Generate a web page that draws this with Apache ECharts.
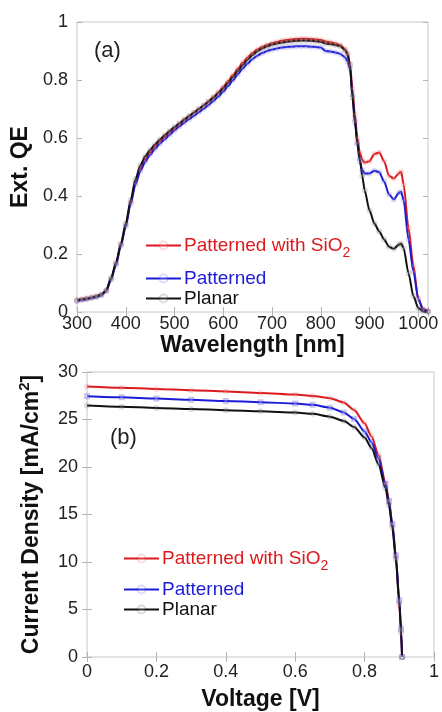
<!DOCTYPE html>
<html>
<head>
<meta charset="utf-8">
<title>EQE and J-V</title>
<script src="https://cdn.jsdelivr.net/npm/echarts@6/dist/echarts.min.js"></script>
<style>
	html, body { margin: 0; padding: 0; background: #fff; }
	#main { width: 442px; height: 712px; }
</style>
</head>
<body>
<div id="main"></div>
<script>
// (a) external quantum efficiency, wavelength in nm
var wavelength = [300,310,320,330,340,350,360,370,380,390,400,410,420,430,440,450,460,470,480,490,
	500,510,520,530,540,550,560,570,580,590,600,610,620,630,640,650,660,670,680,690,
	700,710,720,730,740,750,760,770,780,790,800,810,820,830,840,850,
	855,860,865,870,875,880,885,890,900,910,920,930,940,950,960,965,970,980,990,1000,1010,1020];

var eqeSiO2 = [0.041,0.044,0.047,0.050,0.054,0.060,0.074,0.115,0.167,0.232,0.300,0.378,0.447,0.494,0.526,0.550,0.570,0.588,0.604,0.619,
	0.634,0.648,0.661,0.674,0.687,0.700,0.713,0.727,0.742,0.758,0.776,0.796,0.817,0.839,0.860,0.878,0.893,0.905,0.914,0.921,
	0.927,0.931,0.935,0.938,0.940,0.941,0.942,0.942,0.941,0.940,0.938,0.933,0.930,0.926,0.920,0.906,
	0.892,0.855,0.770,0.680,0.600,0.550,0.525,0.515,0.520,0.545,0.550,0.520,0.470,0.460,0.478,0.484,0.440,0.290,0.160,0.045,0.010,0.003];

var eqePatterned = [0.038,0.041,0.044,0.048,0.052,0.058,0.072,0.112,0.163,0.228,0.295,0.372,0.440,0.486,0.518,0.542,0.562,0.580,0.596,0.611,
	0.626,0.640,0.653,0.665,0.677,0.689,0.701,0.714,0.728,0.743,0.760,0.779,0.799,0.820,0.840,0.857,0.872,0.884,0.893,0.900,
	0.905,0.909,0.912,0.914,0.915,0.916,0.916,0.916,0.915,0.914,0.912,0.900,0.898,0.895,0.890,0.878,
	0.864,0.840,0.750,0.665,0.580,0.520,0.490,0.478,0.478,0.487,0.482,0.450,0.405,0.388,0.410,0.415,0.385,0.250,0.140,0.045,0.008,0.002];

var eqePlanar = [0.040,0.043,0.046,0.050,0.054,0.060,0.075,0.118,0.170,0.235,0.305,0.385,0.458,0.506,0.537,0.559,0.578,0.595,0.610,0.624,
	0.638,0.651,0.664,0.676,0.688,0.700,0.712,0.725,0.739,0.754,0.771,0.790,0.810,0.831,0.852,0.870,0.886,0.899,0.909,0.916,
	0.922,0.926,0.929,0.932,0.934,0.935,0.936,0.936,0.935,0.934,0.932,0.926,0.924,0.921,0.916,0.903,
	0.888,0.850,0.740,0.655,0.585,0.530,0.470,0.420,0.350,0.305,0.278,0.250,0.225,0.218,0.232,0.236,0.220,0.134,0.055,0.014,0.003,0.001];

// (b) current density, mA/cm2, against voltage in V
var voltage = [0,0.1,0.2,0.3,0.4,0.5,0.6,0.65,0.7,0.74,0.77,0.8,0.82,0.84,0.86,0.87,0.88,0.89,0.9,0.905,0.908];
var jSiO2 = [28.48,28.35,28.22,28.08,27.95,27.80,27.62,27.48,27.25,26.80,26.00,24.60,23.20,21.30,18.40,16.50,14.00,10.50,5.50,2.50,0];
var jPatterned = [27.45,27.33,27.20,27.07,26.95,26.82,26.68,26.55,26.25,25.75,25.05,23.75,22.60,20.90,18.20,16.40,14.00,10.70,6.00,3.00,0];
var jPlanar = [26.48,26.35,26.22,26.10,25.98,25.86,25.74,25.60,25.30,24.85,24.20,23.10,22.00,20.30,17.80,16.00,13.60,10.30,5.80,2.80,0];

var wlTicks = [300,400,500,600,700,800,900,1000];

var FONT = "'Liberation Sans', Arial, sans-serif";
var RED = '#dc1a1e', BLUE = '#1c1cd6', BLACK = '#111111';
var NAME_SIO2 = 'Patterned with SiO2', NAME_PAT = 'Patterned', NAME_PLA = 'Planar';

function pairs(xs, ys) {
	return xs.map(function (x, i) { return [x, ys[i]]; });
}

function lineSeries(name, color, xs, ys, axis, symbol, alpha) {
	return {
		type: 'line',
		name: name,
		xAxisIndex: axis.x,
		yAxisIndex: axis.y,
		data: pairs(xs, ys),
		smooth: 0.25,
		smoothMonotone: 'x',
		symbol: symbol,
		symbolSize: 4,
		showSymbol: true,
		lineStyle: { color: color, width: 2 },
		itemStyle: { color: color, borderColor: color, opacity: alpha },
		emphasis: { disabled: true },
		animation: false
	};
}

// frame axes: ticks inside on all four sides, labels only bottom/left
function frameAxis(gridIndex, pos, range, extra) {
	var ax = {
		type: 'value',
		gridIndex: gridIndex,
		position: pos,
		min: range[0],
		max: range[1],
		interval: range[2],
		axisLine: { show: false },
		axisTick: { show: true, inside: true, length: 5, lineStyle: { color: '#b4b4b4' } },
		splitLine: { show: false },
		axisLabel: { show: false }
	};
	for (var k in extra) ax[k] = extra[k];
	return ax;
}

var nameStyle = { fontFamily: FONT, fontSize: 23, fontWeight: 'bold', color: '#111' };

function legendItem(name, color, left, top, fmt) {
	return {
		left: left,
		top: top,
		orient: 'horizontal',
		padding: 0,
		itemWidth: 35,
		itemHeight: 10,
		itemGap: 0,
		selectedMode: false,
		data: [{ name: name, textStyle: { color: color } }],
		formatter: fmt,
		textStyle: {
			fontFamily: FONT,
			fontSize: 19,
			padding: [0, 0, 0, -2],
			rich: {
				sub: { fontFamily: FONT, fontSize: 14, color: color, padding: [16, 0, 0, 0] }
			}
		}
	};
}

function sio2Label(name) {
	return name.replace('SiO2', 'SiO{sub|2}');
}

var chart = echarts.init(document.getElementById('main'));

var option = {
	animation: false,
	backgroundColor: '#fff',
	title: [
		{ text: '(a)', left: 89, top: 35, textStyle: { fontFamily: FONT, fontSize: 22, fontWeight: 'normal', color: '#222' } },
		{ text: '(b)', left: 105, top: 422, textStyle: { fontFamily: FONT, fontSize: 22, fontWeight: 'normal', color: '#222' } }
	],
	grid: [
		{ left: 77, top: 22, width: 351, height: 290, show: true, borderColor: '#c8c8c8', borderWidth: 1 },
		{ left: 87, top: 372, width: 351, height: 290, show: true, borderColor: '#c8c8c8', borderWidth: 1 }
	],
	xAxis: [
		frameAxis(0, 'bottom', [300, 1020, 100], {
			axisLabel: {
				show: true, fontFamily: FONT, fontSize: 18, color: '#222', margin: 3,
				formatter: function (v) { return wlTicks.indexOf(v) >= 0 ? String(v) : ''; }
			},
			name: 'Wavelength [nm]', nameLocation: 'middle', nameGap: 19, nameTextStyle: nameStyle
		}),
		frameAxis(0, 'top', [300, 1020, 100]),
		frameAxis(1, 'bottom', [0, 1, 0.2], {
			axisLabel: { show: true, fontFamily: FONT, fontSize: 18, color: '#222', margin: 6 },
			name: 'Voltage [V]', nameLocation: 'middle', nameGap: 31, nameTextStyle: nameStyle
		}),
		frameAxis(1, 'top', [0, 1, 0.2])
	],
	yAxis: [
		frameAxis(0, 'left', [0, 1, 0.2], {
			axisLabel: { show: true, fontFamily: FONT, fontSize: 18, color: '#222', margin: 9 },
			name: 'Ext. QE', nameLocation: 'middle', nameGap: 41, nameTextStyle: nameStyle
		}),
		frameAxis(0, 'right', [0, 1, 0.2]),
		frameAxis(1, 'left', [0, 30, 5], {
			axisLabel: { show: true, fontFamily: FONT, fontSize: 18, color: '#222', margin: 9 },
			name: 'Current Density [mA/cm{sup|2}]', nameLocation: 'middle', nameGap: 41,
			nameTextStyle: {
				fontFamily: FONT, fontSize: 23, fontWeight: 'bold', color: '#111',
				rich: { sup: { fontFamily: FONT, fontSize: 15, fontWeight: 'bold', color: '#111', padding: [0, 0, 14, 0] } }
			}
		}),
		frameAxis(1, 'right', [0, 30, 5])
	],
	legend: [
		legendItem(NAME_SIO2, RED, 145, 236, sio2Label),
		legendItem(NAME_PAT, BLUE, 145, 269),
		legendItem(NAME_PLA, BLACK, 145, 289),
		legendItem(NAME_SIO2, RED, 123, 549, sio2Label),
		legendItem(NAME_PAT, BLUE, 123, 580),
		legendItem(NAME_PLA, BLACK, 123, 600)
	],
	series: [
		lineSeries(NAME_SIO2, RED, wavelength, eqeSiO2, { x: 0, y: 0 }, 'emptyCircle', 0.15),
		lineSeries(NAME_PAT, BLUE, wavelength, eqePatterned, { x: 0, y: 0 }, 'emptyCircle', 0.15),
		lineSeries(NAME_PLA, BLACK, wavelength, eqePlanar, { x: 0, y: 0 }, 'emptyCircle', 0.15),
		lineSeries(NAME_SIO2, RED, voltage, jSiO2, { x: 2, y: 2 }, 'emptyCircle', 0.15),
		lineSeries(NAME_PAT, BLUE, voltage, jPatterned, { x: 2, y: 2 }, 'emptyRect', 0.25),
		lineSeries(NAME_PLA, BLACK, voltage, jPlanar, { x: 2, y: 2 }, 'emptyCircle', 0.15)
	]
};

chart.setOption(option);
</script>
</body>
</html>
